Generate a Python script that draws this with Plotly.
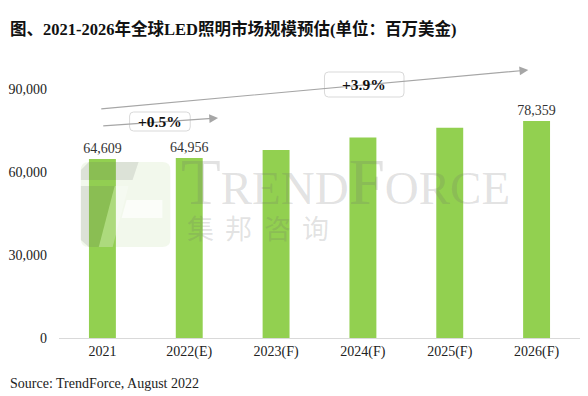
import plotly.graph_objects as go

# ---- data ----
categories = ["2021", "2022(E)", "2023(F)", "2024(F)", "2025(F)", "2026(F)"]
market_size = [64609, 64956, 67900, 72400, 75900, 78359]
bar_labels = ["64,609", "64,956", "", "", "", "78,359"]
y_ticks = [0, 30000, 60000, 90000]
y_tick_labels = ["0", "30,000", "60,000", "90,000"]
growth_labels = ["+0.5%", "+3.9%"]

W, H = 588, 396
ML, MR, MT, MB = 56, 8, 61, 58
PW, PH = W - ML - MR, H - MT - MB
YMAX = 100000
SERIF = "Liberation Serif, Times New Roman, Noto Sans CJK SC, serif"
CJK = "Liberation Serif, Noto Sans CJK SC, serif"


def xp(px):
    return (px - ML) / PW


def yp(py):
    return (H - MB - py) / PH


def xd(px):
    return (px - ML) / (PW / len(categories)) - 0.5


def yd(py):
    return (H - MB - py) / PH * YMAX


fig = go.Figure()
fig.add_trace(go.Bar(
    x=list(range(len(categories))), y=market_size,
    marker=dict(color="#92D050", line=dict(width=0)),
    width=0.31,
    text=bar_labels, textposition="outside", cliponaxis=False,
    constraintext="none",
    textfont=dict(family=SERIF, size=14, color="#333333"),
    hoverinfo="skip",
))

shapes = []
annotations = []

# ---- watermark logo ----
def path(points):
    return "M " + " L ".join(f"{xp(a)},{yp(b)}" for a, b in points) + " Z"


def rrect(x0, y0, x1, y1, r):
    X0, X1 = xp(x0), xp(x1)
    Y0, Y1 = yp(y0), yp(y1)
    rx, ry = r / PW, r / PH
    return (f"M {X0+rx},{Y0} L {X1-rx},{Y0} Q {X1},{Y0} {X1},{Y0-ry} "
            f"L {X1},{Y1+ry} Q {X1},{Y1} {X1-rx},{Y1} L {X0+rx},{Y1} "
            f"Q {X0},{Y1} {X0},{Y1+ry} L {X0},{Y0-ry} Q {X0},{Y0} {X0+rx},{Y0} Z")


shapes.append(dict(type="path", xref="paper", yref="paper", layer="above",
                   path=rrect(78, 162, 168, 247, 8),
                   fillcolor="rgba(150,200,100,0.12)", line=dict(width=0)))
shapes.append(dict(type="path", xref="paper", yref="paper", layer="above",
                   path=path([(86, 162), (136, 162), (130, 180), (78, 180), (78, 170)]),
                   fillcolor="rgba(90,90,90,0.14)", line=dict(width=0)))
shapes.append(dict(type="path", xref="paper", yref="paper", layer="above",
                   path=path([(78, 186), (112, 186), (96, 247), (86, 247), (78, 240)]),
                   fillcolor="rgba(90,90,90,0.14)", line=dict(width=0)))
shapes.append(dict(type="path", xref="paper", yref="paper", layer="above",
                   path=path([(112, 186), (126, 186), (110, 247), (96, 247)]),
                   fillcolor="rgba(255,255,255,0.25)", line=dict(width=0)))
shapes.append(dict(type="path", xref="paper", yref="paper", layer="above",
                   path=path([(124, 200), (160, 200), (160, 218), (119, 218)]),
                   fillcolor="rgba(255,255,255,0.7)", line=dict(width=0)))

annotations.append(dict(
    xref="paper", yref="paper", x=xp(177), y=yp(208), xanchor="left", yanchor="bottom",
    yshift=-12,
    text="T<span style='font-size:47px'>REND</span>F<span style='font-size:47px'>ORCE</span>",
    showarrow=False, font=dict(family=SERIF, size=65, color="rgba(110,110,110,0.2)")))
for ch, cx in zip("集邦咨询", [198, 237, 276, 314]):
    annotations.append(dict(
        xref="paper", yref="paper", x=xp(cx), y=yp(227), xanchor="center", yanchor="middle",
        text=ch, showarrow=False,
        font=dict(family="Noto Sans CJK SC", size=27, color="rgba(110,110,110,0.2)")))

# ---- growth arrows ----
arrows = [((99, 126), (216, 118)), ((97, 109), (528, 70))]
for (sx, sy), (ex, ey) in arrows:
    annotations.append(dict(
        xref="x", yref="y", axref="x", ayref="y",
        x=xd(ex), y=yd(ey), ax=xd(sx), ay=yd(sy), text="",
        showarrow=True, arrowhead=2, arrowsize=1.6, arrowwidth=1.1,
        arrowcolor="#a6a6a6"))

boxes = [(127, 112, 188, 131), (323, 72, 403, 97)]
for (x0, y0, x1, y1), lab in zip(boxes, growth_labels):
    shapes.append(dict(type="path", xref="paper", yref="paper", layer="above",
                       path=rrect(x0, y0, x1, y1, 4),
                       fillcolor="white", line=dict(color="#d9d9d9", width=1)))
    annotations.append(dict(
        xref="paper", yref="paper", x=xp((x0 + x1) / 2), y=yp((y0 + y1) / 2),
        xanchor="center", yanchor="middle", text=f"<b>{lab}</b>", showarrow=False,
        font=dict(family=SERIF, size=15.5, color="#111111")))

# ---- title and source ----
annotations.append(dict(
    xref="paper", yref="paper", x=xp(5), y=yp(29), xanchor="left", yanchor="middle",
    text="<b>图、2021-2026年全球LED照明市场规模预估(单位：百万美金)</b>", showarrow=False,
    font=dict(family=CJK, size=16.5, color="#111111")))
annotations.append(dict(
    xref="paper", yref="paper", x=xp(5), y=yp(383), xanchor="left", yanchor="middle",
    text="Source: TrendForce, August 2022", showarrow=False,
    font=dict(family=SERIF, size=14, color="#222222")))

fig.update_layout(
    width=W, height=H, margin=dict(l=ML, r=MR, t=MT, b=MB, pad=0),
    paper_bgcolor="white", plot_bgcolor="white", showlegend=False,
    shapes=shapes, annotations=annotations,
    xaxis=dict(range=[-0.5, len(categories) - 0.5], tickvals=list(range(len(categories))),
               ticktext=categories, showgrid=False, zeroline=False,
               showline=True, linecolor="#d9d9d9", linewidth=1, ticks="",
               tickfont=dict(family=SERIF, size=14, color="#222222")),
    yaxis=dict(range=[0, YMAX], tickvals=y_ticks, ticktext=y_tick_labels,
               showgrid=False, zeroline=False, showline=False, ticks="",
               ticklabelstandoff=11,
               tickfont=dict(family=SERIF, size=14, color="#222222")),
)

fig.write_html("out.html", config={"displayModeBar": False},
               post_script="document.body.style.margin='0';document.body.style.overflow='hidden';")
